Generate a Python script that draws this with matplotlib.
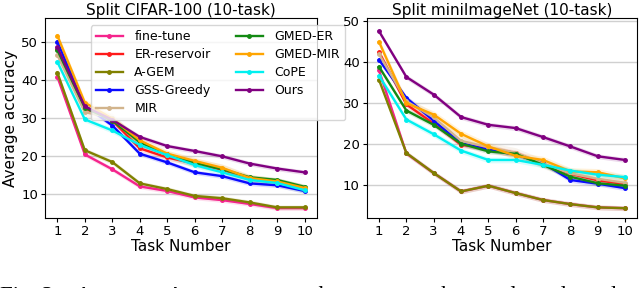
import numpy as np
import matplotlib
matplotlib.use("Agg")
import matplotlib.pyplot as plt

# ---------- DATA ----------
tasks = list(range(1, 11))
methods = ["fine-tune", "ER-reservoir", "A-GEM", "GSS-Greedy", "MIR",
           "GMED-ER", "GMED-MIR", "CoPE", "Ours"]
colors = ["#f5238c", "#ff1a1a", "#808000", "#0a0aff", "#d2b48c",
          "#138a13", "#ffa500", "#00f0f0", "#800080"]

cifar_finetune = [40.8, 20.4, 16.5, 12.0, 10.8, 9.1, 8.4, 7.4, 6.3, 6.3]
cifar_er = [48.0, 32.5, 29.3, 22.0, 19.6, 18.0, 16.4, 14.2, 13.2, 11.3]
cifar_agem = [41.9, 21.5, 18.4, 12.8, 11.3, 9.5, 8.9, 7.8, 6.5, 6.5]
cifar_gss = [50.0, 33.2, 28.0, 20.6, 18.3, 15.7, 14.7, 12.8, 12.3, 10.8]
cifar_mir = [46.5, 31.5, 30.0, 23.0, 20.2, 18.2, 16.7, 14.0, 13.0, 11.4]
cifar_gmed_er = [47.8, 32.7, 29.3, 23.6, 20.4, 18.2, 16.5, 14.4, 13.7, 11.9]
cifar_gmed_mir = [51.6, 34.0, 29.8, 24.1, 20.6, 18.7, 16.9, 14.2, 13.3, 11.6]
cifar_cope = [44.7, 29.6, 26.7, 22.9, 20.2, 17.6, 15.7, 13.7, 12.9, 11.0]
cifar_ours = [48.5, 33.0, 29.5, 25.0, 22.6, 21.3, 19.9, 18.0, 16.7, 15.7]

mini_finetune = [38.0, 17.7, 12.9, 8.4, 9.8, 8.0, 6.3, 5.3, 4.5, 4.3]
mini_er = [42.5, 29.7, 25.0, 19.8, 19.0, 17.8, 15.0, 12.7, 11.1, 10.2]
mini_agem = [35.7, 17.8, 12.9, 8.4, 9.8, 8.0, 6.3, 5.3, 4.5, 4.3]
mini_gss = [40.6, 31.3, 25.7, 20.2, 18.6, 17.4, 15.3, 11.2, 10.3, 9.2]
mini_mir = [42.0, 30.5, 26.5, 20.8, 19.2, 17.9, 15.2, 12.8, 11.5, 10.5]
mini_gmed_er = [38.9, 28.2, 24.7, 20.1, 18.2, 17.6, 14.9, 12.0, 10.4, 9.8]
mini_gmed_mir = [45.0, 30.0, 27.2, 22.5, 19.4, 17.1, 16.1, 13.3, 13.1, 11.6]
mini_cope = [36.7, 26.0, 22.4, 18.4, 16.1, 16.1, 14.9, 13.5, 12.5, 11.9]
mini_ours = [47.6, 36.4, 32.1, 26.6, 24.7, 23.9, 21.7, 19.4, 17.0, 16.1]

cifar = [cifar_finetune, cifar_er, cifar_agem, cifar_gss, cifar_mir,
         cifar_gmed_er, cifar_gmed_mir, cifar_cope, cifar_ours]
mini = [mini_finetune, mini_er, mini_agem, mini_gss, mini_mir,
        mini_gmed_er, mini_gmed_mir, mini_cope, mini_ours]
# rough spread (std) of each method, drawn as faint band
spread = [0.6, 0.7, 0.6, 0.6, 1.2, 0.6, 0.9, 0.7, 0.6]

caption = ("Fig. 3:   Average   Accuracy   on   the   seen   tasks   "
           "evaluated   and   reported   during   training")

# ---------- PLOT ----------
plt.rcParams["font.family"] = ["DejaVu Sans"]
fig = plt.figure(figsize=(6.4, 2.88), dpi=100)
ax1 = fig.add_axes([0.0703, 0.243, 0.425, 0.694])
ax2 = fig.add_axes([0.573, 0.243, 0.423, 0.694])

for ax, data, title in [(ax1, cifar, "Split CIFAR-100 (10-task)"),
                        (ax2, mini, "Split miniImageNet (10-task)")]:
    for name, col, vals, sd in zip(methods, colors, data, spread):
        v = np.array(vals)
        ax.fill_between(tasks, v - sd, v + sd, color=col, alpha=0.15, lw=0)
        ax.plot(tasks, v, color=col, lw=1.7, marker="o", ms=2.5, label=name)
    ax.set_title(title, fontsize=11, pad=1)
    ax.set_xlabel("Task Number", fontsize=11, labelpad=1)
    ax.set_xticks(tasks)
    ax.set_yticks([10, 20, 30, 40, 50])
    ax.tick_params(labelsize=9.5, length=3, pad=2)
    ax.yaxis.grid(True, color="#d0d0d0", lw=1)
    ax.set_axisbelow(True)
    ax.set_xlim(0.55, 10.45)

ax1.set_ylim(3.7, 56.2)
ax2.set_ylim(1.9, 50.8)
ax1.set_ylabel("Average accuracy", fontsize=11, labelpad=2)

ax1.legend(ncol=2, fontsize=9, loc="upper right", bbox_to_anchor=(1.103, 0.965),
           borderaxespad=0, handlelength=2.2, handletextpad=0.9,
           labelspacing=0.4, columnspacing=2.0, framealpha=0.8)

fig.text(0.0, -0.049, caption, fontsize=16.5, family=["Liberation Serif"],
         ha="left", va="baseline")

fig.savefig("out.png", dpi=100)
